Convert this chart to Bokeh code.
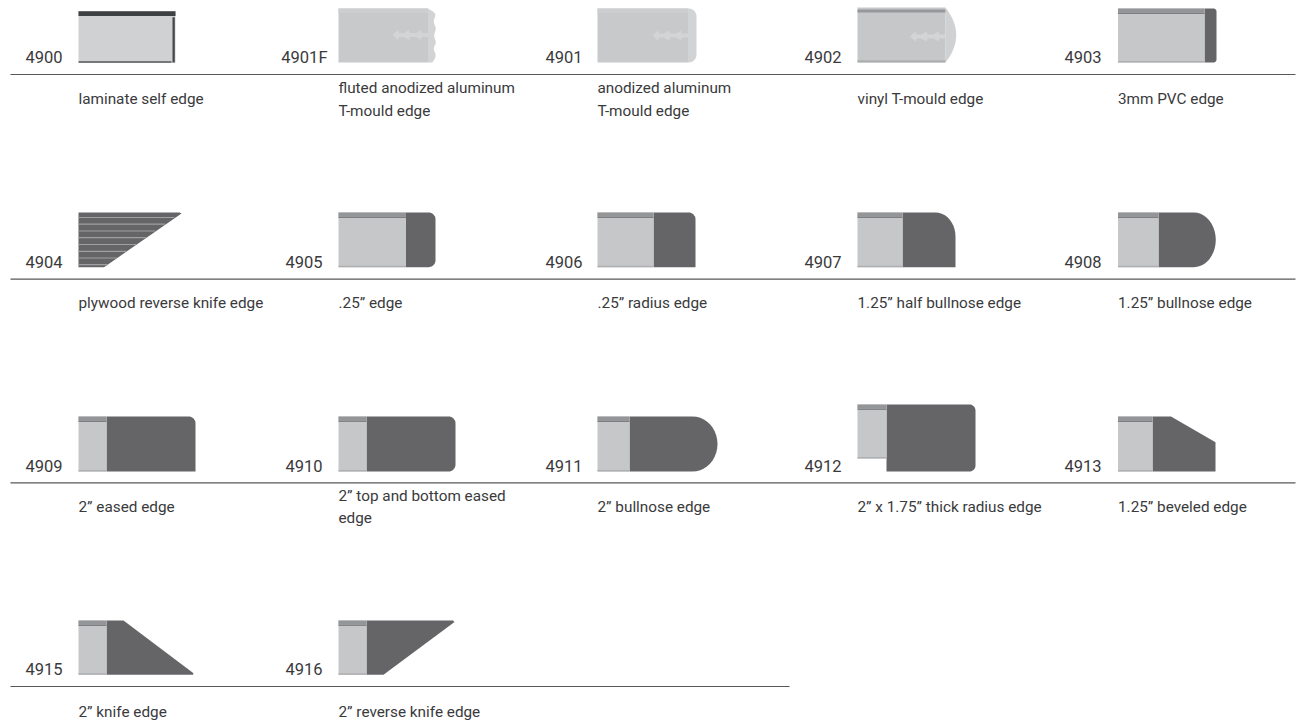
from bokeh.plotting import figure
from bokeh.embed import file_html
from bokeh.resources import INLINE
from bokeh.models import Range1d
from bokeh.core.properties import value
import math

FONT = "Roboto"
INK = "#3a3a3c"
DARK = "#656567"
CORE = "#c6c7c9"
STRIP = "#949597"
BOTTOM = "#aeafb1"

codes = ["4900","4901F","4901","4902","4903","4904","4905","4906","4907","4908",
         "4909","4910","4911","4912","4913","4915","4916"]
captions = [["laminate self edge"],["fluted anodized aluminum","T-mould edge"],["anodized aluminum","T-mould edge"],
            ["vinyl T-mould edge"],["3mm PVC edge"],["plywood reverse knife edge"],[".25\u201d edge"],[".25\u201d radius edge"],
            ["1.25\u201d half bullnose edge"],["1.25\u201d bullnose edge"],["2\u201d eased edge"],
            ["2\u201d top and bottom eased","edge"],["2\u201d bullnose edge"],["2\u201d x 1.75\u201d thick radius edge"],
            ["1.25\u201d beveled edge"],["2\u201d knife edge"],["2\u201d reverse knife edge"]]
rows = [0,0,0,0,0,1,1,1,1,1,2,2,2,2,2,3,3]
cols = [0,1,2,3,4,0,1,2,3,4,0,1,2,3,4,0,1]
col_left = [78,338,597,857,1117.5]
col_num_right = [62,322,582,841,1101]
row_top = [8,212,416,620]
row_bottom = [62,266.7,471,674.3]
row_rule = [74,278.7,482.3,686]
rule_ends = [1295,1295,1295,789]
caption_one = [104.5,308.5,512.7,717]
caption_two = [[93.5,116],None,[501.7,523],None]
core_right = [175,427.5,687.5,945,1204,181,405.5,653,902,1158,106,366,629,886,1152,106,366]
outer_right = [175,436,696,955.7,1216,181,435,695,955,1215.3,195,455,717,975,1215,194,454]
round_top = [(0,0),(0,0),(8,8),(0,0),(3,3),(0,0),(7,7),(7,7),(20,24),(22,27.5),(7,7),(7,7),(25,27.5),(6,6),(0,0),(0,0),(0,0)]
round_bot = [(0,0),(0,0),(8,8),(0,0),(3,3),(0,0),(7,7),(0,0),(0,0),(22,27.5),(0,0),(7,7),(25,27.5),(6,6),(0,0),(0,0),(0,0)]
scallop_y = [8,13,21,28,35,42,48,55,62]
scallop_d = [8.5,0,3.5,0,3,0,3.5,0,4]
chevron_dx = [-35.5,-30,-29,-24,-19,-18,-12,-7,-6,0]
chevron_dy = [0,5,2,2,5,2,2,5,2,2]
ply_stripes = [217,223.7,230.5,237.2,244,250.8,257.5,264.2]


def arc(cx, cy, rx, ry, a0, a1):
    out = []
    for k in range(11):
        a = math.radians(a0 + (a1 - a0) * k / 10)
        out.append((cx + rx * math.cos(a), cy + ry * math.sin(a)))
    return out


def rounded(x0, x1, top, bot, rt, rb):
    pts = [(x0, top)]
    pts += arc(x1 - rt[0], top + rt[1], rt[0], rt[1], -90, 0) if rt[0] else [(x1, top)]
    pts += arc(x1 - rb[0], bot - rb[1], rb[0], rb[1], 0, 90) if rb[0] else [(x1, bot)]
    pts.append((x0, bot))
    return pts


def soften(pts):
    # corner-cutting so the scalloped edge reads as curves
    for _ in range(2):
        out = [pts[0]]
        for (a, b), (c, d) in zip(pts, pts[1:]):
            out += [(.75 * a + .25 * c, .75 * b + .25 * d), (.25 * a + .75 * c, .25 * b + .75 * d)]
        out.append(pts[-1])
        pts = out
    return pts


p = figure(width=1307, height=725, output_backend="svg", toolbar_location=None,
           x_range=Range1d(0, 1307), y_range=Range1d(725, 0), min_border=0)
p.xaxis.visible = False
p.yaxis.visible = False
p.grid.visible = False
p.outline_line_color = None


def poly(pts, color):
    p.patch([a for a, _ in pts], [b for _, b in pts], fill_color=color, line_color=None)


def box(x0, x1, y0, y1, color):
    p.quad(left=[x0], right=[x1], top=[y0], bottom=[y1], fill_color=color, line_color=None)


def arrow(xc, ym, color):
    upper = [(xc + dx, ym - dy) for dx, dy in zip(chevron_dx, chevron_dy)]
    lower = [(xc + dx, ym + dy) for dx, dy in zip(chevron_dx, chevron_dy)]
    poly(upper + lower[::-1], color)


for r, end in enumerate(rule_ends):
    p.line([10, end], [row_rule[r], row_rule[r]], line_color="#58595b", line_width=1.2)

for i, code in enumerate(codes):
    r, c = rows[i], cols[i]
    x0, xc, xo = col_left[c], core_right[i], outer_right[i]
    top, bot = row_top[r], row_bottom[r]
    if code == "4900":
        top = 10.7
        box(x0, xo, top, bot + .3, "#d0d1d3")
        box(x0, xo, top, top + 4.8, "#3f4042")
        box(xo - 3, xo - .7, top + 6, bot, "#47484a")
        box(x0, xo - 4, bot - 1.2, bot + .3, "#58595b")
    elif code == "4901F":
        edge = soften([(xo - d, y) for y, d in zip(scallop_y, scallop_d)])
        poly([(xc, top)] + edge + [(xc, bot)], "#d2d3d5")
        box(x0, xc, top, bot, "#c8c9cb")
        box(x0, xc, top, top + 4.5, "#cdced0")
        arrow(xc, 34.5, "#d3d4d6")
    elif code == "4901":
        poly([(xc, top)] + rounded(xc, xo, top, bot, round_top[i], round_bot[i])[1:], "#d2d3d5")
        box(x0, xc, top, bot, "#c8c9cb")
        box(x0, xc, top, top + 4.5, "#cdced0")
        arrow(xc, 35, "#d3d4d6")
    elif code == "4902":
        bulge = []
        for k in range(17):
            t = k / 16
            bulge.append((xc + 2 * t * (1 - t) * 2 * (xo - xc), (top - 1) + (bot - top + 1) * t))
        poly(bulge, "#d0d1d3")
        box(x0, xc, top - 1, bot, CORE)
        box(x0, xc, top + 1, top + 4, "#97989b")
        box(x0, xc, bot - 2.3, bot, BOTTOM)
        arrow(xc, 36, "#d3d4d6")
    elif code == "4904":
        poly([(x0, top), (xo - 2, top), (xo, top + 1), (x0 + 25.5, bot), (x0, bot)], DARK)
        for y in ply_stripes:
            frac = (y - top) / (bot - top)
            p.line([x0, xo - (xo - (x0 + 25.5)) * frac], [y, y], line_color="#9fa0a2", line_width=1.2)
    else:
        t = 404 if code == "4912" else top
        b = 458 if code == "4912" else bot
        if code == "4913":
            poly([(xc, top), (1170.5, top), (xo, 441.7), (xo, bot), (xc, bot)], DARK)
        elif code == "4915":
            poly([(xc, top), (123, top), (xo - 1, bot - 1.5), (xo - 1.5, bot), (xc, bot)], DARK)
        elif code == "4916":
            poly([(xc, top), (xo - 1.5, top), (xo, top + 1.5), (383, bot), (xc, bot)], DARK)
        else:
            poly(rounded(xc, xo, t, bot, round_top[i], round_bot[i]), DARK)
        box(x0, xc, t, b, CORE)
        box(x0, xc, t, t + 4.2, STRIP)
        box(x0, xc, t + 4.2, t + 5.4, "#7d7e80")
        box(x0, xc, b - 1.5, b, BOTTOM)

    num_x = col_num_right[c] + (5 if code == "4901F" else 0)
    p.text([num_x], [row_bottom[r] + .5], text=[code], text_font=value(FONT), text_font_size="16.5px",
           text_color=INK, text_align="right", text_baseline="alphabetic", y_offset=-6)
    lines = captions[i]
    ys = caption_two[r] if len(lines) == 2 else [caption_one[r]]
    for s, y in zip(lines, ys):
        p.text([col_left[c]], [y], text=[s], text_font=value(FONT), text_font_size="15.3px",
               text_color=INK, text_align="left", text_baseline="alphabetic", y_offset=-6)

open("out.html", "w").write(file_html(p, INLINE))
